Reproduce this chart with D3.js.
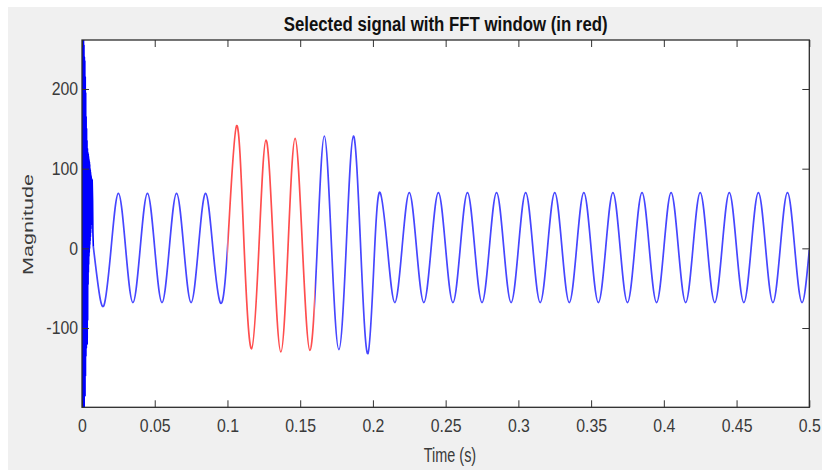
<!DOCTYPE html>
<html>
<head>
<meta charset="utf-8">
<script src="https://cdn.jsdelivr.net/npm/d3@7"></script>
<style>
  html, body { margin: 0; padding: 0; background: #ffffff; }
  svg { display: block; }
  text { font-family: "Liberation Sans", Arial, Helvetica, sans-serif; }
</style>
</head>
<body>
<svg id="chart" width="822" height="470"></svg>
<script>
// ---------------- DATA ----------------
const titleText = "Selected signal with FFT window (in red)";
const xLabelText = "Time (s)";
const yLabelText = "Magnitude";

const xTicks = [0, 0.05, 0.1, 0.15, 0.2, 0.25, 0.3, 0.35, 0.4, 0.45, 0.5];
const xTickLabels = ["0", "0.05", "0.1", "0.15", "0.2", "0.25", "0.3", "0.35", "0.4", "0.45", "0.5"];
const yTicks = [-100, 0, 100, 200];
const yTickLabels = ["-100", "0", "100", "200"];

const xDomain = [0, 0.5];
const yDomain = [-199.5, 261.5];

// FFT window (red)
const windowStart = 0.1;
const windowEnd = 0.16;

// Switching transient at the start (dense oscillation)
const transientTimes = [0.00000, 0.00015, 0.00030, 0.00045, 0.00060, 0.00075, 0.00090, 0.00105,
  0.00120, 0.00135, 0.00150, 0.00165, 0.00180, 0.00195, 0.00210, 0.00225, 0.00240, 0.00255,
  0.00270, 0.00285, 0.00300, 0.00315, 0.00330, 0.00345, 0.00360, 0.00375, 0.00390, 0.00405,
  0.00420, 0.00430, 0.00440, 0.00450, 0.00460, 0.00470, 0.00480, 0.00490, 0.00500, 0.00510,
  0.00520, 0.00530, 0.00540, 0.00550, 0.00560, 0.00570, 0.00580, 0.00590, 0.00600, 0.00610,
  0.00620, 0.00630, 0.00640, 0.00650, 0.00660, 0.00670, 0.00680, 0.00700, 0.00730, 0.00750,
  0.00780];
const transientValues = [0, 250, -195, 280, -210, 265, -205, 275,
  -185, 255, -200, 240, -175, 235, -185, 215, -160, 195,
  -135, 165, -125, 150, -110, 135, -120, 125, -90, 120,
  -45, 118, -30, 115, -20, 112, -10, 110, -5, 108,
  0, 105, 5, 100, 10, 98, 15, 95, 20, 92,
  25, 90, 30, 88, 35, 75, 40, 86, 60, 20,
  2];

// Steady signal: zero crossings and extremes
const signalTimes = [0.0078, 0.0112, 0.0152, 0.020, 0.025, 0.030, 0.035, 0.040, 0.045, 0.050,
  0.055, 0.060, 0.065, 0.070, 0.075, 0.080, 0.085, 0.090, 0.095, 0.100,
  0.1063, 0.1115, 0.1166, 0.1216, 0.1265, 0.1316, 0.1367, 0.1416, 0.1465, 0.1516,
  0.1567, 0.1617, 0.1666, 0.1716, 0.1766, 0.1816, 0.1866, 0.1916, 0.1966, 0.2012,
  0.205, 0.210, 0.215, 0.220, 0.225, 0.230, 0.235, 0.240, 0.245, 0.250,
  0.255, 0.260, 0.265, 0.270, 0.275, 0.280, 0.285, 0.290, 0.295, 0.300,
  0.305, 0.310, 0.315, 0.320, 0.325, 0.330, 0.335, 0.340, 0.345, 0.350,
  0.355, 0.360, 0.365, 0.370, 0.375, 0.380, 0.385, 0.390, 0.395, 0.400,
  0.405, 0.410, 0.415, 0.420, 0.425, 0.430, 0.435, 0.440, 0.445, 0.450,
  0.455, 0.460, 0.465, 0.470, 0.475, 0.480, 0.485, 0.490, 0.495, 0.500];
const signalValues = [2, -48, -71, 0, 69, 0, -68, 0, 69, 0,
  -68, 0, 69, 0, -68, 0, 69, 0, -68, -1,
  154, 0, -126, 0, 136, 0, -130, 0, 138, 0,
  -128, 0, 141, 0, -127, 0, 141, 0, -132, 0,
  70, 0, -68, 0, 70, 0, -68, 0, 70, 0,
  -68, 0, 70, 0, -68, 0, 70, 0, -68, 0,
  70, 0, -68, 0, 70, 0, -68, 0, 70, 0,
  -68, 0, 70, 0, -68, 0, 70, 0, -68, 0,
  70, 0, -68, 0, 70, 0, -68, 0, 70, 0,
  -68, 0, 70, 0, -68, 0, 70, 0, -68, -2];

// ---------------- LAYOUT ----------------
const W = 822, H = 470;
const plot = { left: 82, top: 40, right: 809.3, bottom: 407.3 };

const svg = d3.select("#chart");

// figure background
svg.append("rect").attr("x", 8).attr("y", 7).attr("width", W - 8).attr("height", H - 7).attr("fill", "#f0f0f0");
// axes background
svg.append("rect").attr("x", plot.left).attr("y", plot.top)
  .attr("width", plot.right - plot.left).attr("height", plot.bottom - plot.top).attr("fill", "#ffffff");

const x = d3.scaleLinear().domain(xDomain).range([plot.left, plot.right]);
const y = d3.scaleLinear().domain(yDomain).range([plot.bottom, plot.top]);

const defs = svg.append("defs");
defs.append("clipPath").attr("id", "clipPlot").append("rect")
  .attr("x", plot.left).attr("y", plot.top)
  .attr("width", plot.right - plot.left).attr("height", plot.bottom - plot.top);
const cpBlue = defs.append("clipPath").attr("id", "clipBlue");
cpBlue.append("rect").attr("x", plot.left).attr("y", plot.top)
  .attr("width", x(windowStart) - plot.left).attr("height", plot.bottom - plot.top);
cpBlue.append("rect").attr("x", x(windowEnd)).attr("y", plot.top)
  .attr("width", plot.right - x(windowEnd)).attr("height", plot.bottom - plot.top);
defs.append("clipPath").attr("id", "clipRed").append("rect")
  .attr("x", x(windowStart)).attr("y", plot.top)
  .attr("width", x(windowEnd) - x(windowStart)).attr("height", plot.bottom - plot.top);

const transient = transientTimes.map((t, i) => ({ t, v: transientValues[i] }));
const signal = signalTimes.map((t, i) => ({ t, v: signalValues[i] }));

const lineLinear = d3.line().x(d => x(d.t)).y(d => y(d.v)).curve(d3.curveLinear);
const lineSmooth = d3.line().x(d => x(d.t)).y(d => y(d.v)).curve(d3.curveNatural);

const g = svg.append("g").attr("clip-path", "url(#clipPlot)");
const gBlue = g.append("g").attr("clip-path", "url(#clipBlue)");
gBlue.append("path").datum(transient).attr("d", lineLinear)
  .attr("fill", "none").attr("stroke", "#0000ff").attr("stroke-width", 1.6).attr("stroke-linejoin", "round");
gBlue.append("path").datum(signal).attr("d", lineSmooth)
  .attr("fill", "none").attr("stroke", "#4646ff").attr("stroke-width", 1.7);
g.append("g").attr("clip-path", "url(#clipRed)")
  .append("path").datum(signal).attr("d", lineSmooth)
  .attr("fill", "none").attr("stroke", "#ff4e4e").attr("stroke-width", 1.7);

// ---------------- AXES ----------------
const tickColor = "#333333";
const labelColor = "#3a3a3a";
const tickLen = 7;

const xAxis = d3.axisBottom(x).tickValues(xTicks)
  .tickFormat((d, i) => xTickLabels[i]).tickSizeInner(-tickLen).tickSizeOuter(0).tickPadding(12);
const gx = svg.append("g").attr("transform", `translate(0,${plot.bottom})`).call(xAxis);
gx.select(".domain").remove();
gx.selectAll("line").attr("stroke", tickColor);
gx.selectAll("text").attr("font-size", 18).attr("fill", labelColor)
  .attr("font-family", "Liberation Sans, Arial, sans-serif")
  .attr("transform", "scale(0.88,1)");

const xAxisTop = d3.axisTop(x).tickValues(xTicks).tickFormat("").tickSizeInner(-tickLen).tickSizeOuter(0);
const gxt = svg.append("g").attr("transform", `translate(0,${plot.top})`).call(xAxisTop);
gxt.select(".domain").remove();
gxt.selectAll("line").attr("stroke", tickColor);

const yAxis = d3.axisLeft(y).tickValues(yTicks)
  .tickFormat((d, i) => yTickLabels[i]).tickSizeInner(-tickLen).tickSizeOuter(0).tickPadding(4.5);
const gy = svg.append("g").attr("transform", `translate(${plot.left},0)`).call(yAxis);
gy.select(".domain").remove();
gy.selectAll("line").attr("stroke", tickColor);
gy.selectAll("text").attr("font-size", 18).attr("fill", labelColor)
  .attr("font-family", "Liberation Sans, Arial, sans-serif")
  .attr("transform", "scale(0.88,1)");

const yAxisRight = d3.axisRight(y).tickValues(yTicks).tickFormat("").tickSizeInner(-tickLen).tickSizeOuter(0);
const gyr = svg.append("g").attr("transform", `translate(${plot.right},0)`).call(yAxisRight);
gyr.select(".domain").remove();
gyr.selectAll("line").attr("stroke", tickColor);

// box
svg.append("rect").attr("x", plot.left).attr("y", plot.top)
  .attr("width", plot.right - plot.left).attr("height", plot.bottom - plot.top)
  .attr("fill", "none").attr("stroke", "#2b2b2b").attr("stroke-width", 1.3);

// ---------------- LABELS ----------------
svg.append("text").text(titleText)
  .attr("transform", `translate(${(plot.left + plot.right) / 2},31) scale(0.82,1)`)
  .attr("text-anchor", "middle").attr("font-size", 20.5).attr("font-weight", "bold").attr("fill", "#111");

svg.append("text").text(xLabelText)
  .attr("transform", `translate(450,462) scale(0.74,1)`)
  .attr("text-anchor", "middle").attr("font-size", 19.5).attr("fill", labelColor);

svg.append("text").text(yLabelText)
  .attr("transform", `translate(33,224.5) rotate(-90) scale(1.2,0.8)`)
  .attr("text-anchor", "middle").attr("font-size", 18).attr("fill", labelColor);
</script>
</body>
</html>
